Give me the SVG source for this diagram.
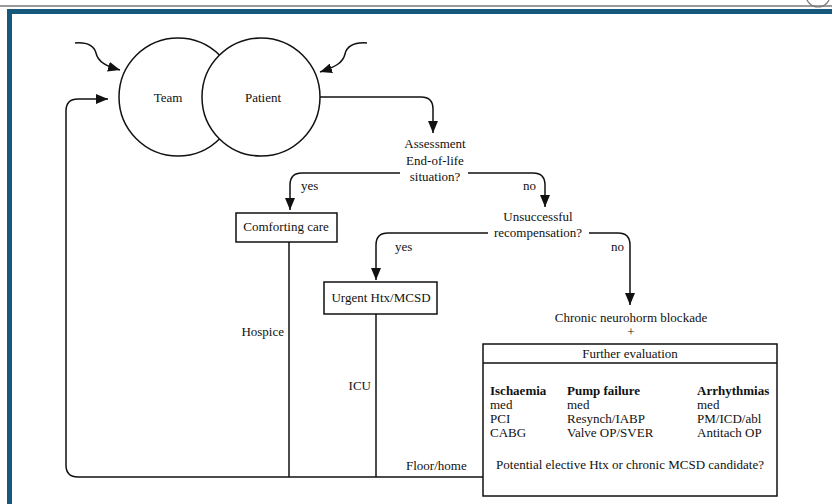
<svg xmlns="http://www.w3.org/2000/svg" width="832" height="504" viewBox="0 0 832 504">
<style>
text{font-family:"Liberation Serif","Times New Roman",serif;font-size:13px;fill:#111}
.b{font-weight:bold}
.m{text-anchor:middle}
.e{text-anchor:end}
.ln{fill:none;stroke:#111;stroke-width:1.5}
.bx{fill:#fff;stroke:#111;stroke-width:1.5}
</style>
<defs>
<marker id="ah" viewBox="0 0 12 10" refX="12" refY="5" markerWidth="12" markerHeight="10" markerUnits="userSpaceOnUse" orient="auto">
<path d="M0,0 L12,5 L0,10 Z" fill="#111"/>
</marker>
</defs>
<rect width="832" height="504" fill="#fff"/>
<g id="frame">
<line x1="0" y1="6" x2="832" y2="6" stroke="#9a9a9a" stroke-width="2"/>
<circle cx="818" cy="-5" r="12" fill="none" stroke="#777" stroke-width="1.2"/>
<rect x="7" y="9" width="825" height="5" fill="#17597d"/>
<rect x="7" y="9" width="5" height="495" fill="#17597d"/>
</g>
<g id="connectors">
<path class="ln" marker-end="url(#ah)" d="M75,43 C88,42 94,46 96,53 C98,62 106,66 120,70"/>
<path class="ln" marker-end="url(#ah)" d="M367,43 C353,42 347,46 345,54 C343,63 335,67 320,72"/>
<path class="ln" marker-end="url(#ah)" d="M483,477 H78 Q66,477 66,465 V111 Q66,99 78,99 H108"/>
<path class="ln" d="M289,242 V477"/>
<path class="ln" d="M376,314 V477"/>
<path class="ln" marker-end="url(#ah)" d="M319,97 H421 Q433,97 433,109 V133"/>
<path class="ln" marker-end="url(#ah)" d="M400,173 H302 Q290,173 290,185 V210"/>
<path class="ln" marker-end="url(#ah)" d="M468,173 H533 Q545,173 545,185 V207"/>
<path class="ln" marker-end="url(#ah)" d="M488,233 H388 Q376,233 376,245 V280"/>
<path class="ln" marker-end="url(#ah)" d="M589,233 H618 Q630,233 630,245 V305"/>
</g>
<g id="team">
<circle class="bx" cx="178" cy="97" r="59"/>
<text class="m" x="168" y="102">Team</text>
</g>
<g id="patient">
<circle class="bx" cx="261" cy="97" r="59"/>
<text class="m" x="263" y="102">Patient</text>
</g>
<g id="assessment">
<text class="m" x="435" y="148">Assessment</text>
<text class="m" x="435" y="165">End-of-life</text>
<text class="m" x="435" y="181">situation?</text>
</g>
<g id="labels">
<text x="301" y="190">yes</text>
<text x="523" y="190">no</text>
<text x="395" y="251">yes</text>
<text x="611" y="251">no</text>
<text class="e" x="284" y="336">Hospice</text>
<text class="e" x="371" y="390">ICU</text>
<text x="406" y="470">Floor/home</text>
</g>
<g id="comforting">
<rect class="bx" x="236" y="213" width="101" height="29"/>
<text class="m" x="286" y="231">Comforting care</text>
</g>
<g id="unsuccessful">
<text class="m" x="538" y="221">Unsuccessful</text>
<text class="m" x="538" y="237">recompensation?</text>
</g>
<g id="urgent">
<rect class="bx" x="324" y="282" width="113" height="32"/>
<text class="m" x="381" y="302">Urgent Htx/MCSD</text>
</g>
<g id="chronic">
<text class="m" x="631" y="322">Chronic neurohorm blockade</text>
<text class="m" x="631" y="336">+</text>
</g>
<g id="further">
<rect class="bx" x="483" y="344" width="294" height="152"/>
<line x1="483" y1="363" x2="777" y2="363" stroke="#111" stroke-width="1.5"/>
<text class="m" x="630" y="358">Further evaluation</text>
<text class="b" x="490" y="395">Ischaemia</text>
<text x="490" y="409">med</text>
<text x="490" y="423">PCI</text>
<text x="490" y="437">CABG</text>
<text class="b" x="567" y="395">Pump failure</text>
<text x="567" y="409">med</text>
<text x="567" y="423">Resynch/IABP</text>
<text x="567" y="437">Valve OP/SVER</text>
<text class="b" x="697" y="395">Arrhythmias</text>
<text x="697" y="409">med</text>
<text x="697" y="423">PM/ICD/abl</text>
<text x="697" y="437">Antitach OP</text>
<text class="m" x="630" y="469">Potential elective Htx or chronic MCSD candidate?</text>
</g>
</svg>
